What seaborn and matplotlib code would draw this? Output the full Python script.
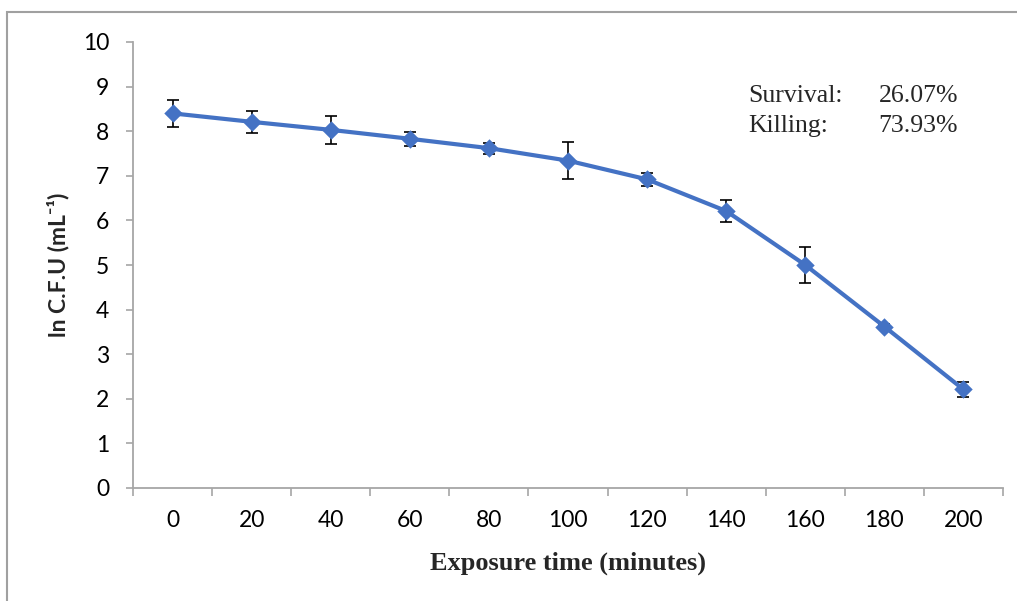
import numpy as np
import pandas as pd
import matplotlib
matplotlib.use("Agg")
import matplotlib.pyplot as plt
from matplotlib.patches import Rectangle
import seaborn as sns

# ── Data ─────────────────────────────────────────────────────────────────────
times = [0, 20, 40, 60, 80, 100, 120, 140, 160, 180, 200]
ln_cfu = [8.40, 8.21, 8.03, 7.83, 7.62, 7.34, 6.92, 6.21, 5.00, 3.62, 2.21]
sd = [0.31, 0.25, 0.31, 0.16, 0.12, 0.42, 0.15, 0.25, 0.41, 0.05, 0.16]

BLUE = "#4472C4"
GREY = "#A6A6A6"

sns.set_theme(style="white")
plt.rcParams["font.family"] = ["Lato", "DejaVu Sans"]

df = pd.DataFrame({"time": [str(t) for t in times], "lncfu": ln_cfu})

fig = plt.figure(figsize=(10.17, 6.01), dpi=100)
ax = fig.add_axes([133 / 1017, 1 - 488 / 601, 870 / 1017, 446 / 601])

sns.pointplot(data=df, x="time", y="lncfu", order=df["time"], color=BLUE,
              markers="D", markersize=7, linewidth=3, errorbar=None, ax=ax)
ax.errorbar(np.arange(len(times)), ln_cfu, yerr=sd, fmt="none",
            ecolor="black", elinewidth=1.2, capsize=4.5, capthick=1.2, zorder=1)

ax.set_xlim(-0.5, len(times) - 0.5)
ax.set_ylim(0, 10)
ax.set_yticks(range(0, 11))

# Excel-style category axis: ticks between categories
ax.set_xticks(np.arange(-0.5, len(times)), minor=True)
ax.tick_params(axis="x", which="major", length=0, pad=16, labelsize=16.5, colors="black")
ax.tick_params(axis="x", which="minor", length=6, width=1.2, color=GREY, direction="out")
ax.tick_params(axis="y", length=5, width=1.2, color=GREY, direction="out",
               pad=12, labelsize=16.5, labelcolor="black")
ax.tick_params(axis="both", which="both", bottom=True, left=True)

for side in ["top", "right"]:
    ax.spines[side].set_visible(False)
for side in ["left", "bottom"]:
    ax.spines[side].set_color(GREY)
    ax.spines[side].set_linewidth(1.3)

ax.set_xlabel("Exposure time (minutes)", fontsize=19, fontweight="bold",
              family="Liberation Serif", labelpad=15)
ax.set_ylabel("ln C.F.U (mL\u207b\u00b9)", fontsize=16.5, fontweight="bold", labelpad=10)

fig.text(748 / 1017, 1 - 96 / 601, "Survival:", fontsize=18.5, family="Liberation Serif",
         ha="left", va="center")
fig.text(958 / 1017, 1 - 96 / 601, "26.07%", fontsize=18.5, family="Liberation Serif",
         ha="right", va="center")
fig.text(748 / 1017, 1 - 126 / 601, "Killing:", fontsize=18.5, family="Liberation Serif",
         ha="left", va="center")
fig.text(958 / 1017, 1 - 126 / 601, "73.93%", fontsize=18.5, family="Liberation Serif",
         ha="right", va="center")

# chart area border (only top and left visible in the crop)
fig.add_artist(Rectangle((7 / 1017, -0.1), 1.1, 1.1 - 12 / 601,
                         transform=fig.transFigure, fill=False,
                         edgecolor="#A0A0A0", linewidth=1.5))

fig.savefig("out.png", dpi=100)
